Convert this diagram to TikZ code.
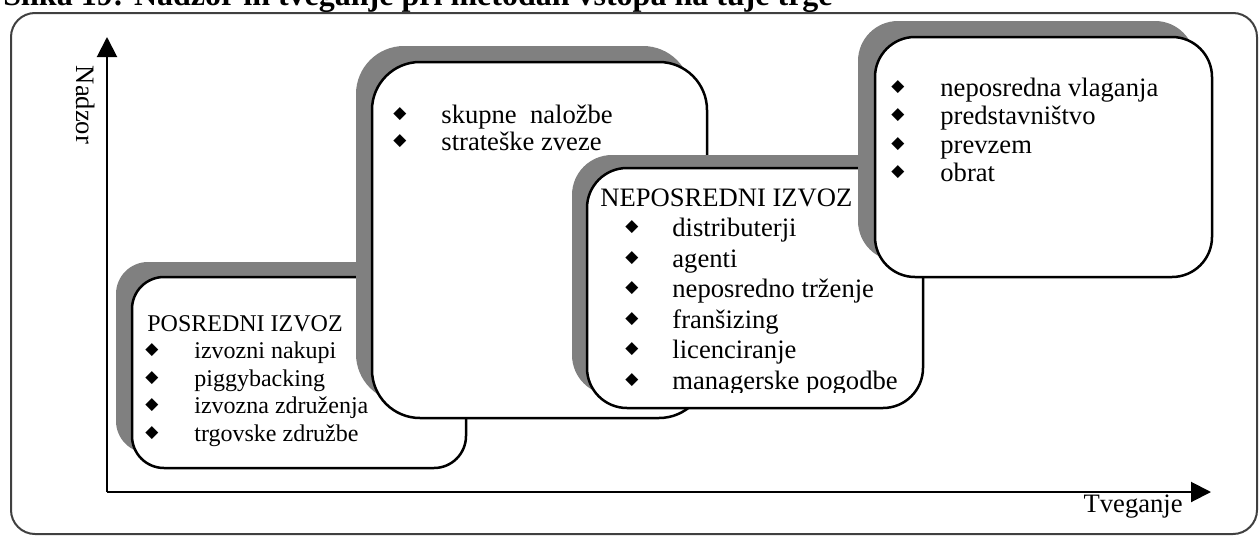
\documentclass[tikz,border=0pt]{standalone}
\usepackage{fontspec}
\setmainfont{Liberation Serif}
\newfontfamily\symfont{DejaVu Sans}
\usetikzlibrary{arrows.meta}

\begin{document}
\begin{tikzpicture}[x=0.5pt, y=-0.5pt,
  font=\fontsize{13.3pt}{16pt}\selectfont,
  frame/.style={draw=black!75, line width=1pt, rounded corners=12pt},
  shadowbox/.style={fill=black!50},
  whitebox/.style={fill=white, draw=black, line width=1.25pt},
  axis/.style={line width=1pt, -{Triangle[width=10pt, length=10pt]}},
  entry/.style={anchor=base west, inner sep=0pt},
  bullet/.style={inner sep=0pt, font=\symfont\fontsize{8.5pt}{8.5pt}\selectfont}]
  \useasboundingbox (0,0) rectangle (1259,536);

  % title (cut at the top) and frame
  \node[entry, font=\bfseries\fontsize{16pt}{19pt}\selectfont] (title) at (3,5)
    {Slika 19: Nadzor in tveganje pri metodah vstopa na tuje trge};
  \draw[frame] (11,13) rectangle (1257,534);

  % axes
  \coordinate (origin) at (107,492);
  \coordinate (ytop) at (107,37);
  \coordinate (xend) at (1211,492);
  \draw[axis] (origin) -- (ytop);
  \draw[axis] (origin) -- (xend);
  \node[rotate=-90] (nadzor) at (86,105) {Nadzor};
  \node[anchor=base east, inner sep=0pt] (tveganje) at (1183,512) {Tveganje};

  % box 1: posredni izvoz
  \fill[shadowbox, rounded corners=16pt] (116,262) rectangle (450,453);
  \draw[whitebox, rounded corners=16pt] (132,277) rectangle (466,468);
  \node[entry, font=\fontsize{12pt}{14pt}\selectfont] (pi) at (147,331) {POSREDNI IZVOZ};
  \foreach \txt [count=\i] in {izvozni nakupi, piggybacking, izvozna združenja, trgovske združbe} {
    \node[bullet] (pib-\i) at (152,{331+27.5*\i-8}) {◆};
    \node[entry, font=\fontsize{12pt}{14pt}\selectfont] (pi-\i) at (194,{331+27.5*\i}) {\txt};
  }

  % box 2: skupne naložbe
  \fill[shadowbox, rounded corners=24pt] (356,46) rectangle (691,402);
  \draw[whitebox, rounded corners=24pt] (372,62) rectangle (707,418);
  \foreach \txt [count=\i] in {{skupne\ \ naložbe}, strateške zveze} {
    \node[bullet] (sk-\i) at (400,{96+27*\i-9}) {◆};
    \node[entry] (sz-\i) at (441,{96+27*\i}) {\txt};
  }

  % box 3: neposredni izvoz
  \fill[shadowbox, rounded corners=20pt] (572,155) rectangle (908,395);
  \draw[whitebox, rounded corners=20pt] (587,168) rectangle (923,408);
  \begin{scope}
    \clip (589,170) rectangle (921,392);
    \node[entry] (ni) at (600,206) {NEPOSREDNI IZVOZ};
    \foreach \txt [count=\i] in {distributerji, agenti, neposredno trženje, franšizing, licenciranje, managerske pogodbe} {
      \node[bullet] (nib-\i) at (632,{206+30.5*\i-9}) {◆};
      \node[entry] (ni-\i) at (672,{206+30.5*\i}) {\txt};
    }
  \end{scope}

  % box 4: neposredna vlaganja
  \fill[shadowbox, rounded corners=20pt] (858,21) rectangle (1195,261);
  \draw[whitebox, rounded corners=20pt] (875,37) rectangle (1212,277);
  \foreach \txt [count=\i] in {neposredna vlaganja, predstavništvo, prevzem, obrat} {
    \node[bullet] (nvb-\i) at (898,{67.5+28.5*\i-9}) {◆};
    \node[entry] (nv-\i) at (940,{67.5+28.5*\i}) {\txt};
  }
\end{tikzpicture}
\end{document}
